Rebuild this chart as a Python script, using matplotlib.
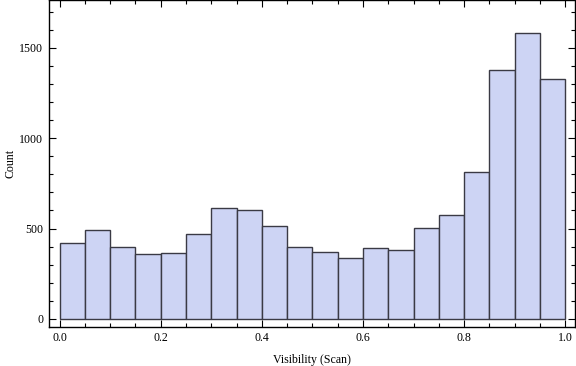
import numpy as np
import matplotlib.pyplot as plt
from matplotlib.ticker import MultipleLocator

# histogram bins (left edges) and counts
bin_edges = np.round(np.arange(0, 1.0001, 0.05), 2)
counts = [420, 492, 398, 359, 365, 470, 614, 603, 514, 398,
          370, 337, 393, 381, 503, 575, 813, 1377, 1581, 1327]

plt.rcParams['font.family'] = ['Liberation Serif', 'DejaVu Serif']

fig = plt.figure(figsize=(5.76, 3.66), dpi=100)
ax = fig.add_axes([0.085, 0.107, 0.913, 0.893])

ax.bar(bin_edges[:-1], counts, width=0.05, align='edge',
       color='#cdd4f4', edgecolor='#3a3a44', linewidth=1.0)

ax.set_xlim(-0.021, 1.019)
ax.set_ylim(-44, 1765)

ax.xaxis.set_major_locator(MultipleLocator(0.2))
ax.xaxis.set_minor_locator(MultipleLocator(0.05))
ax.yaxis.set_major_locator(MultipleLocator(500))
ax.yaxis.set_minor_locator(MultipleLocator(100))
ax.xaxis.set_major_formatter(plt.FuncFormatter(lambda v, p: f'{v:.1f}'))
ax.yaxis.set_major_formatter(plt.FuncFormatter(lambda v, p: f'{int(v)}'))

ax.tick_params(which='both', direction='in', top=True, right=True,
               labelsize=8.6, colors='black', width=0.8)
ax.tick_params(which='major', length=5, pad=4)
ax.tick_params(which='minor', length=3)
for s in ax.spines.values():
    s.set_linewidth(1.0)

ax.set_xlabel('Visibility (Scan)', fontsize=8.6, labelpad=7)
ax.set_ylabel('Count', fontsize=8.6)
ax.yaxis.set_label_coords(-0.062, 0.5)

fig.savefig('out.png', dpi=100)
